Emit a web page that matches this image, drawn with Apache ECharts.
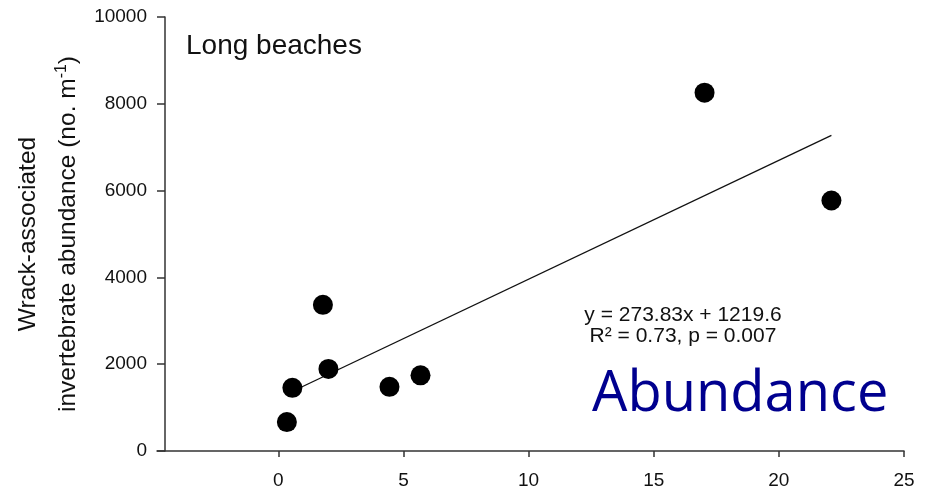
<!DOCTYPE html>
<html><head><meta charset="utf-8">
<script src="https://cdn.jsdelivr.net/npm/echarts@6/dist/echarts.min.js"></script>
<style>html,body{margin:0;padding:0;background:#fff}#c{width:928px;height:493px}</style>
</head><body><div id="c"></div>
<script>
var points = [[0.34,666],[0.56,1455],[1.78,3367],[2.0,1891],[4.44,1478],[5.68,1744],[17.03,8256],[22.1,5772]];
var trendLine = [[0.34,1313],[22.1,7271]];
var xTicks = [0,5,10,15,20,25];
var yTicks = [0,2000,4000,6000,8000,10000];
var panelTitle = 'Long beaches';
var equationLine1 = 'y = 273.83x + 1219.6';
var equationLine2 = 'R² = 0.73, p = 0.007';
var overlayText = 'Abundance';

var chart = echarts.init(document.getElementById('c'));
var font = '"Liberation Sans", Arial, sans-serif';
chart.setOption({
  animation: false,
  backgroundColor: '#fff',
  grid: {left: 157, right: 24, top: 17, bottom: 42},
  xAxis: {
    type: 'value', min: -4.85, max: 25,
    axisLine: {show: true, onZero: false, lineStyle: {color: '#333', width: 1.5}},
    axisTick: {show: true, length: 6, customValues: xTicks, lineStyle: {color: '#333', width: 1.5}},
    axisLabel: {customValues: xTicks, color: '#111', fontSize: 19, fontFamily: font, margin: 20},
    splitLine: {show: false}
  },
  yAxis: {
    type: 'value', min: 0, max: 10000, offset: -8,
    axisLine: {show: true, onZero: false, lineStyle: {color: '#333', width: 1.5}},
    axisTick: {show: true, length: 8, customValues: yTicks, lineStyle: {color: '#333', width: 1.5}},
    axisLabel: {customValues: yTicks, color: '#111', fontSize: 19, fontFamily: font, margin: 18,
      formatter: function (v) { return String(v); }},
    splitLine: {show: false},
    name: '{a|Wrack-associated}\n{a|invertebrate abundance (no. m}{s|-1}{a|)}',
    nameLocation: 'middle', nameGap: 69,
    nameTextStyle: {
      rich: {
        a: {fontSize: 24.5, fontFamily: font, color: '#111', lineHeight: 40},
        s: {fontSize: 16, fontFamily: font, color: '#111', lineHeight: 40, padding: [0,0,14,0]}
      }
    }
  },
  series: [
    {type: 'line', data: trendLine, symbol: 'none', lineStyle: {color: '#111', width: 1.3}, z: 1},
    {type: 'scatter', data: points, symbolSize: 20, itemStyle: {color: '#000', opacity: 1}, z: 2}
  ],
  graphic: [
    {type: 'text', x: 186, y: 46, style: {text: panelTitle, font: '28px ' + font, fill: '#111', textVerticalAlign: 'middle'}},
    {type: 'text', x: 683, y: 315, style: {text: equationLine1, font: '21px ' + font, fill: '#111', textAlign: 'center', textVerticalAlign: 'middle'}},
    {type: 'text', x: 683, y: 336, style: {text: equationLine2, font: '21px ' + font, fill: '#111', textAlign: 'center', textVerticalAlign: 'middle'}},
    {type: 'text', x: 592, y: 395, style: {text: overlayText, font: '56px "Open Sans", sans-serif', fill: '#00008f', textVerticalAlign: 'middle'}}
  ]
});
</script></body></html>
